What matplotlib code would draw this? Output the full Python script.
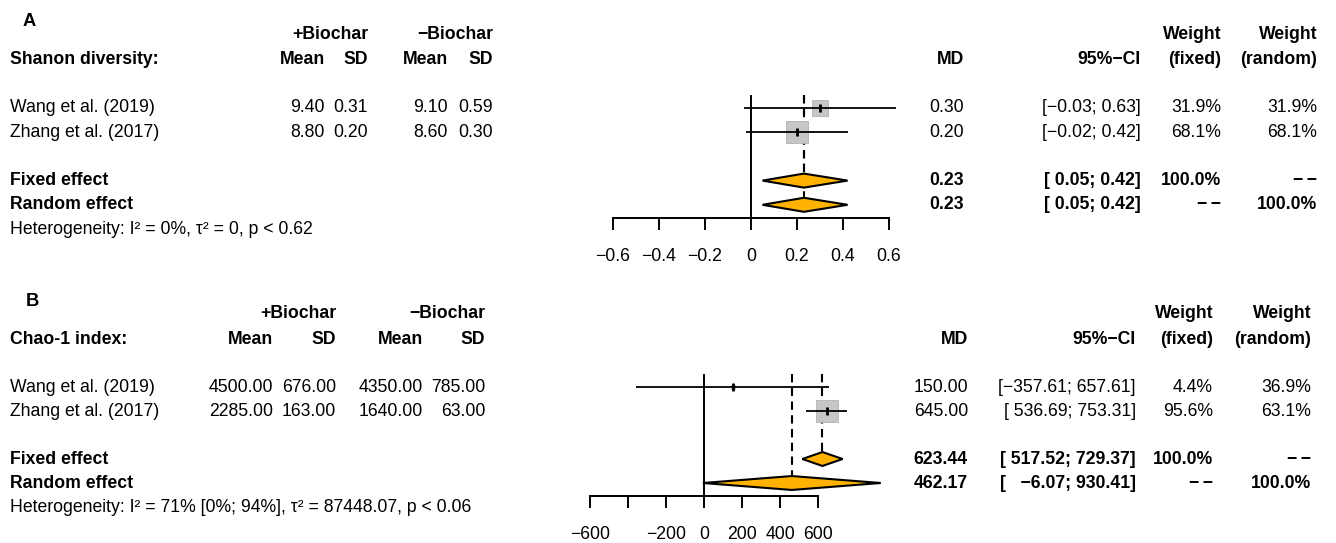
import matplotlib
matplotlib.use("Agg")
import matplotlib.pyplot as plt
from matplotlib.patches import Polygon

plt.rcParams['font.family'] = ['Liberation Sans', 'DejaVu Sans']
FS = 12.7

# ---------------- data ----------------
studies = ["Wang et al. (2019)", "Zhang et al. (2017)"]

# Panel A: Shannon diversity
A_title = "Shanon diversity:"
A_mean_plus = [9.40, 8.80]
A_sd_plus = [0.31, 0.20]
A_mean_minus = [9.10, 8.60]
A_sd_minus = [0.59, 0.30]
A_md = [0.30, 0.20]
A_ci_lo = [-0.03, -0.02]
A_ci_hi = [0.63, 0.42]
A_w_fixed = [31.9, 68.1]
A_w_random = [31.9, 68.1]
A_fixed = [0.23, 0.05, 0.42]
A_random = [0.23, 0.05, 0.42]
A_ci_txt = ["[−0.03; 0.63]", "[−0.02; 0.42]"]
A_fixed_ci_txt = "[ 0.05; 0.42]"
A_random_ci_txt = "[ 0.05; 0.42]"
A_het = "Heterogeneity: I² = 0%, τ² = 0, p < 0.62"
A_ticks = [-0.6, -0.4, -0.2, 0, 0.2, 0.4, 0.6]
A_ticklabels = ["−0.6", "−0.4", "−0.2", "0", "0.2", "0.4", "0.6"]

# Panel B: Chao-1 index
B_title = "Chao-1 index:"
B_mean_plus = [4500.00, 2285.00]
B_sd_plus = [676.00, 163.00]
B_mean_minus = [4350.00, 1640.00]
B_sd_minus = [785.00, 63.00]
B_md = [150.00, 645.00]
B_ci_lo = [-357.61, 536.69]
B_ci_hi = [657.61, 753.31]
B_w_fixed = [4.4, 95.6]
B_w_random = [36.9, 63.1]
B_fixed = [623.44, 517.52, 729.37]
B_random = [462.17, -6.07, 930.41]
B_ci_txt = ["[−357.61; 657.61]", "[ 536.69; 753.31]"]
B_fixed_ci_txt = "[ 517.52; 729.37]"
B_random_ci_txt = "[   −6.07; 930.41]"
B_het = "Heterogeneity: I² = 71% [0%; 94%], τ² = 87448.07, p < 0.06"
B_ticks = [-600, -400, -200, 0, 200, 400, 600]
B_ticklabels = ["−600", "", "−200", "0", "200", "400", "600"]

DASHES = "−\u2009−"

W, H = 1336, 543
fig = plt.figure(figsize=(W / 100, H / 100), dpi=100)

GRAY = '#c6c6c6'
GRAY_E = '#b2b2b2'
ORANGE = '#FFB300'


def panel(letter, letter_x, top_px, h_px, row0_px, sp, title, mp, sdp, mm, sdm,
          md, lo, hi, wf, wr, fixed, random, ci_txt, fci, rci, het,
          ticks, ticklabels, zero_px, px_per_unit, cols):
    ytop = (top_px - row0_px) / sp
    ybot = (top_px + h_px - row0_px) / sp
    rect_y = 1 - (top_px + h_px) / H
    axT = fig.add_axes([0, rect_y, 1, h_px / H])
    axT.set_xlim(0, W)
    axT.set_ylim(ybot, ytop)
    axT.axis('off')

    x_mp, x_sdp, x_mm, x_sdm, x_md, x_ci, x_wf, x_wr = cols
    bold = dict(fontsize=FS, fontweight='bold', va='center')
    norm = dict(fontsize=FS, va='center')

    axT.text(letter_x, -3.56, letter, ha='left', fontsize=13.2,
             fontweight='bold', va='center')
    axT.text(x_sdp, -3.05, "+Biochar", ha='right', **bold)
    axT.text(x_sdm, -3.05, "−Biochar", ha='right', **bold)
    axT.text(x_wf, -3.05, "Weight", ha='right', **bold)
    axT.text(x_wr, -3.05, "Weight", ha='right', **bold)
    axT.text(10, -2, title, ha='left', **bold)
    for x, s in [(x_mp, "Mean"), (x_sdp, "SD"), (x_mm, "Mean"), (x_sdm, "SD"),
                 (x_md, "MD"), (x_ci, "95%−CI"), (x_wf, "(fixed)"), (x_wr, "(random)")]:
        axT.text(x, -2, s, ha='right', **bold)

    for i, name in enumerate(studies):
        axT.text(10, i, name, ha='left', **norm)
        axT.text(x_mp, i, f"{mp[i]:.2f}", ha='right', **norm)
        axT.text(x_sdp, i, f"{sdp[i]:.2f}", ha='right', **norm)
        axT.text(x_mm, i, f"{mm[i]:.2f}", ha='right', **norm)
        axT.text(x_sdm, i, f"{sdm[i]:.2f}", ha='right', **norm)
        axT.text(x_md, i, f"{md[i]:.2f}", ha='right', **norm)
        axT.text(x_ci, i, ci_txt[i], ha='right', **norm)
        axT.text(x_wf, i, f"{wf[i]:.1f}%", ha='right', **norm)
        axT.text(x_wr, i, f"{wr[i]:.1f}%", ha='right', **norm)

    axT.text(10, 3, "Fixed effect", ha='left', **bold)
    axT.text(10, 4, "Random effect", ha='left', **bold)
    axT.text(x_md, 3, f"{fixed[0]:.2f}", ha='right', **bold)
    axT.text(x_md, 4, f"{random[0]:.2f}", ha='right', **bold)
    axT.text(x_ci, 3, fci, ha='right', **bold)
    axT.text(x_ci, 4, rci, ha='right', **bold)
    axT.text(x_wf, 3, "100.0%", ha='right', **bold)
    axT.text(x_wr, 3, DASHES, ha='right', **bold)
    axT.text(x_wf, 4, DASHES, ha='right', **bold)
    axT.text(x_wr, 4, "100.0%", ha='right', **bold)
    axT.text(10, 5, het, ha='left', **norm)

    # forest axes
    fx0, fx1 = 580, 940
    axF = fig.add_axes([fx0 / W, rect_y, (fx1 - fx0) / W, h_px / H])
    axF.set_xlim((fx0 - zero_px) / px_per_unit, (fx1 - zero_px) / px_per_unit)
    axF.set_ylim(ybot, ytop)
    axF.patch.set_alpha(0)
    for s in ['top', 'left', 'right']:
        axF.spines[s].set_visible(False)
    axF.spines['bottom'].set_position(('data', 4.55))
    axF.spines['bottom'].set_bounds(ticks[0], ticks[-1])
    axF.spines['bottom'].set_linewidth(1.4)
    axF.set_yticks([])
    axF.set_xticks(ticks)
    axF.set_xticklabels(ticklabels, fontsize=FS)
    axF.tick_params(axis='x', direction='out', length=8.6, width=1.4, pad=13)

    dh = 0.29
    axF.vlines(0, -0.55, 4.55, color='black', lw=1.4)
    axF.vlines(fixed[0], -0.55, 3 - dh, color='black', lw=1.5,
               linestyles=(0, (4, 2.6)))
    axF.vlines(random[0], -0.55, 4 - dh, color='black', lw=1.5,
               linestyles=(0, (4, 2.6)))

    wmax = max(wf)
    for i in range(len(studies)):
        ms = 15.8 * (wf[i] / wmax) ** 0.5
        axF.plot(md[i], i, marker='s', ms=ms, mfc=GRAY, mec=GRAY_E, mew=0.6,
                 ls='none', zorder=3)
        axF.plot([lo[i], hi[i]], [i, i], color='black', lw=1.3, zorder=4,
                 solid_capstyle='butt')
        axF.plot(md[i], i, marker='|', ms=5.5, mew=2, color='black', zorder=5)

    for r, (est, l, h) in [(3, fixed), (4, random)]:
        poly = Polygon([(l, r), (est, r - dh), (h, r), (est, r + dh)], closed=True,
                       facecolor=ORANGE, edgecolor='black', lw=1.5, zorder=4,
                       clip_on=False)
        axF.add_patch(poly)


panel("A", 23, 0, 270, 108, 24.2, A_title, A_mean_plus, A_sd_plus, A_mean_minus,
      A_sd_minus, A_md, A_ci_lo, A_ci_hi, A_w_fixed, A_w_random, A_fixed, A_random,
      A_ci_txt, A_fixed_ci_txt, A_random_ci_txt, A_het, A_ticks, A_ticklabels,
      751, 230.0, (325, 368, 448, 493, 964, 1141, 1221, 1317))

panel("B", 26, 270, 273, 387, 24.0, B_title, B_mean_plus, B_sd_plus, B_mean_minus,
      B_sd_minus, B_md, B_ci_lo, B_ci_hi, B_w_fixed, B_w_random, B_fixed, B_random,
      B_ci_txt, B_fixed_ci_txt, B_random_ci_txt, B_het, B_ticks, B_ticklabels,
      704, 0.19, (273, 336, 423, 485, 968, 1136, 1213, 1311))

fig.savefig("out.png", dpi=100)
